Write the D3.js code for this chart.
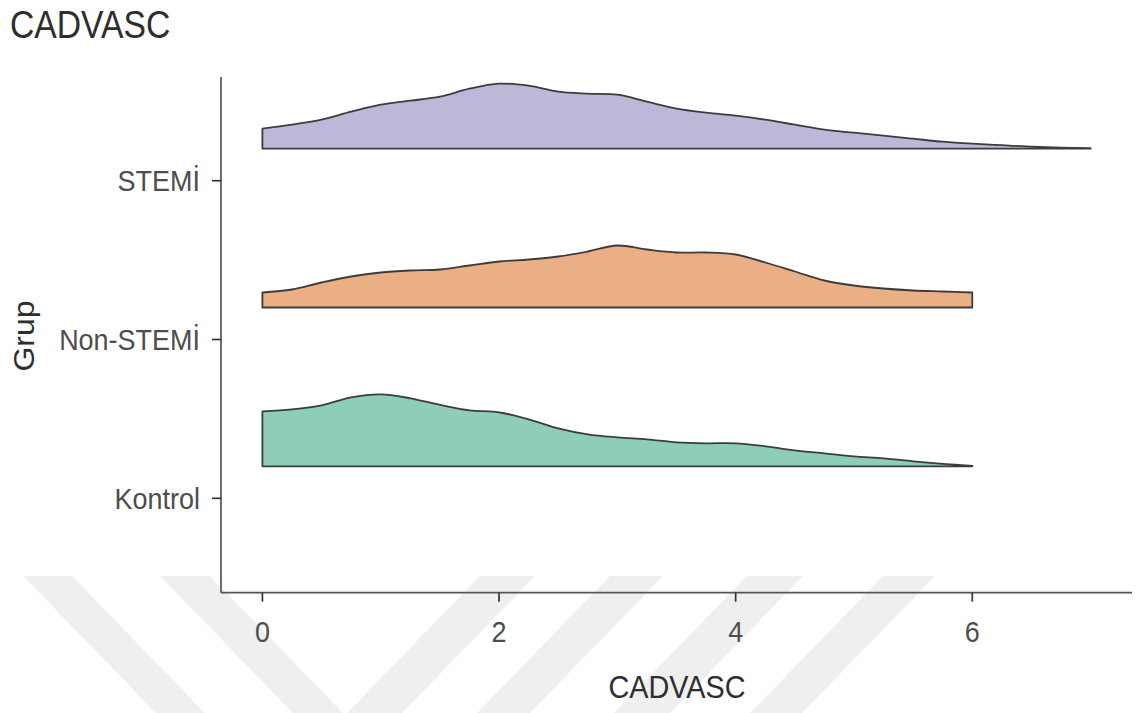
<!DOCTYPE html>
<html>
<head>
<meta charset="utf-8">
<script src="https://cdn.jsdelivr.net/npm/d3@7"></script>
<style>
  html, body { margin: 0; padding: 0; background: #fff; }
  svg { display: block; }
  text { font-family: "Liberation Sans", Arial, Helvetica, sans-serif; }
</style>
</head>
<body>
<svg id="chart" width="1142" height="713"></svg>
<script>
// Groups, bottom to top
const groups = ["Kontrol", "Non-STEMİ", "STEMİ"];
const groupColors = ["#8ECEB9", "#EBAF85", "#BCB8D8"];
const xTicks = [0, 2, 4, 6];

// Density estimates of CADVASC per group
const gridTo6 = [0, 0.25, 0.5, 0.75, 1, 1.25, 1.5, 1.75, 2, 2.25, 2.5, 2.75, 3,
                 3.25, 3.5, 3.75, 4, 4.25, 4.5, 4.75, 5, 5.25, 5.5, 5.75, 6];
const gridTo7 = [0, 0.25, 0.5, 0.75, 1, 1.25, 1.5, 1.75, 2, 2.25, 2.5, 2.75, 3,
                 3.25, 3.5, 3.75, 4, 4.25, 4.5, 4.75, 5, 5.25, 5.5, 5.75, 6,
                 6.25, 6.5, 6.75, 7];
const densKontrol = [0.220, 0.228, 0.244, 0.276, 0.288, 0.272, 0.246, 0.224, 0.216,
                     0.188, 0.152, 0.128, 0.116, 0.108, 0.096, 0.092, 0.092, 0.080,
                     0.064, 0.052, 0.040, 0.032, 0.020, 0.010, 0.002];
const densNonStemi = [0.060, 0.072, 0.100, 0.124, 0.140, 0.148, 0.152, 0.168, 0.184,
                      0.192, 0.204, 0.224, 0.248, 0.232, 0.220, 0.220, 0.212, 0.180,
                      0.144, 0.108, 0.088, 0.076, 0.068, 0.064, 0.060];
const densStemi = [0.080, 0.096, 0.116, 0.148, 0.176, 0.192, 0.208, 0.240, 0.260,
                   0.252, 0.228, 0.220, 0.216, 0.188, 0.160, 0.144, 0.132, 0.116,
                   0.096, 0.076, 0.064, 0.052, 0.040, 0.028, 0.020, 0.014, 0.008,
                   0.004, 0.002];

const ridges = [
  { group: groups[0], xs: gridTo6, ds: densKontrol },
  { group: groups[1], xs: gridTo6, ds: densNonStemi },
  { group: groups[2], xs: gridTo7, ds: densStemi }
];

const svg = d3.select("#chart");
const TICK_SX = 0.93;   // condensed type
const TITLE_SX = 0.9;
const textColor = "#4D4D4D";
const titleColor = "#2e2e2e";

// Background mark: light chevron bands along the bottom
const wm = svg.append("g").attr("fill", "#EFEFEF");
const bandTop = 576, bandBottom = 720, slope = 0.97;
const bandsRight = [[23, 72], [160, 210]];
const bandsLeft = [[480, 535], [610, 663], [747, 803], [883, 935]];
const h = bandBottom - bandTop;
bandsRight.forEach(([a, b]) => {
  wm.append("path").attr("d", `M${a},${bandTop}L${b},${bandTop}L${b + h * slope},${bandBottom}L${a + h * slope},${bandBottom}Z`);
});
bandsLeft.forEach(([a, b]) => {
  wm.append("path").attr("d", `M${a},${bandTop}L${b},${bandTop}L${b - h * slope},${bandBottom}L${a - h * slope},${bandBottom}Z`);
});

// Scales
const x = d3.scaleLinear().domain([-0.35, 7.35]).range([221, 1132]);
const y = d3.scalePoint().domain(groups).range([498.3, 180.7]);
const ridgeOffset = 32;       // ridge baseline sits above the tick
const hScale = d3.scaleLinear().domain([0, 0.3]).range([0, 75]);

// Ridges
const ridgeG = svg.append("g");
ridges.forEach((r, i) => {
  const base = y(r.group) - ridgeOffset;
  const pts = r.xs.map((v, j) => [v, r.ds[j]]);
  const area = d3.area()
    .x(d => x(d[0]))
    .y0(base)
    .y1(d => base - hScale(d[1]))
    .curve(d3.curveCatmullRom.alpha(0.5));
  ridgeG.append("path")
    .attr("d", area(pts))
    .attr("fill", groupColors[i])
    .attr("stroke", "#3c3c3c")
    .attr("stroke-width", 1.8)
    .attr("stroke-linejoin", "round");
});

// Axes
const axisColor = "#555";
const yAxisTop = 77, xAxisY = 592.7;
svg.append("line")
  .attr("x1", 221).attr("x2", 221).attr("y1", yAxisTop).attr("y2", xAxisY)
  .attr("stroke", axisColor).attr("stroke-width", 1.7);
svg.append("line")
  .attr("x1", 221).attr("x2", 1132).attr("y1", xAxisY).attr("y2", xAxisY)
  .attr("stroke", axisColor).attr("stroke-width", 1.7);

// x ticks
xTicks.forEach(t => {
  svg.append("line")
    .attr("x1", x(t)).attr("x2", x(t)).attr("y1", xAxisY).attr("y2", xAxisY + 9)
    .attr("stroke", "#333").attr("stroke-width", 1.7);
  svg.append("text")
    .attr("transform", `translate(${x(t)},642) scale(${TICK_SX},1)`)
    .attr("text-anchor", "middle")
    .attr("font-size", 29)
    .attr("fill", textColor)
    .text(t);
});

// y ticks
groups.forEach(g => {
  svg.append("line")
    .attr("x1", 212).attr("x2", 221).attr("y1", y(g)).attr("y2", y(g))
    .attr("stroke", "#333").attr("stroke-width", 1.7);
  svg.append("text")
    .attr("transform", `translate(200,${y(g) + 10.5}) scale(${TICK_SX},1)`)
    .attr("text-anchor", "end")
    .attr("font-size", 29)
    .attr("fill", textColor)
    .text(g);
});

// Axis titles
svg.append("text")
  .attr("transform", `translate(677,698) scale(${TITLE_SX},1)`)
  .attr("text-anchor", "middle")
  .attr("font-size", 32)
  .attr("fill", titleColor)
  .text("CADVASC");

svg.append("text")
  .attr("transform", `translate(34,336) scale(${TITLE_SX},1) rotate(-90)`)
  .attr("text-anchor", "middle")
  .attr("font-size", 32)
  .attr("fill", titleColor)
  .text("Grup");

// Plot title
svg.append("text")
  .attr("transform", `translate(10,37.5) scale(0.875,1)`)
  .attr("font-size", 38.5)
  .attr("fill", titleColor)
  .text("CADVASC");
</script>
</body>
</html>
